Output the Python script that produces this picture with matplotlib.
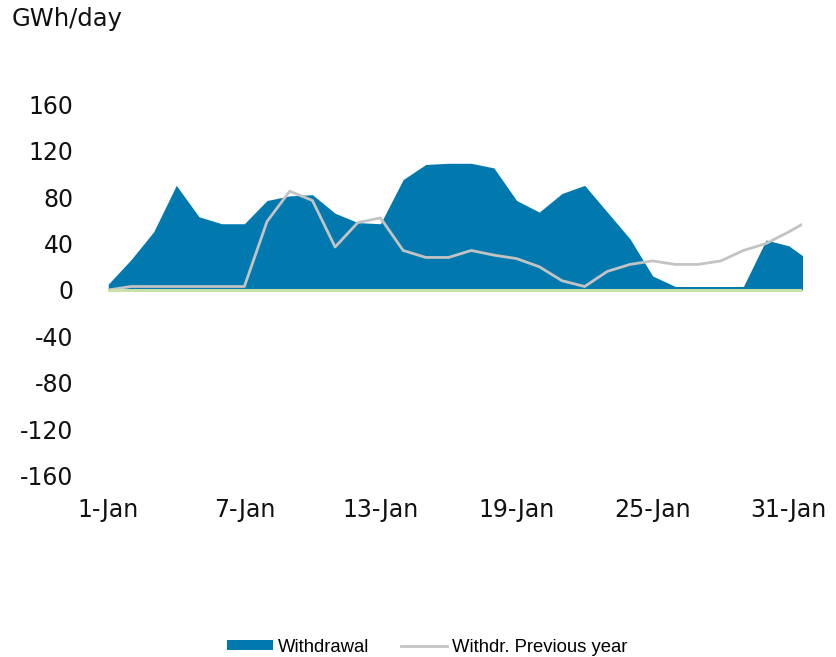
import matplotlib
matplotlib.use("Agg")
import matplotlib.pyplot as plt
from matplotlib.patches import Patch
from matplotlib.lines import Line2D

days = list(range(1, 33))
withdrawal = [5, 26, 50, 90, 63, 57, 57, 77, 81, 82, 66, 58, 57, 95, 108, 109,
              109, 105, 77, 67, 83, 90, 67, 44, 12, 3, 3, 3, 3, 43, 38, 24]
withdr_prev = [0, 3, 3, 3, 3, 3, 3, 59, 85, 77, 37, 58, 62, 34, 28, 28,
               34, 30, 27, 20, 8, 3, 16, 22, 25, 22, 22, 25, 34, 40, 50, 61]
injection = [0] * 32
tick_days = [1, 7, 13, 19, 25, 31]
tick_labels = ["1-Jan", "7-Jan", "13-Jan", "19-Jan", "25-Jan", "31-Jan"]
y_ticks = [-160, -120, -80, -40, 0, 40, 80, 120, 160]

fig = plt.figure(figsize=(8.36, 6.57), dpi=100)
ax = fig.add_axes([0.1295, 0.2755, 0.8295, 0.5662])

blue = "#0279AE"
gray = "#C3C3C3"
green = "#C9E0A6"

ax.fill_between(days, withdrawal, 0, color=blue, linewidth=0, zorder=2)
ax.plot(days, withdr_prev, color=gray, linewidth=2, zorder=3)
ax.plot(days, injection, color=green, linewidth=2.2, zorder=4)

ax.set_xlim(1, 31.57)
ax.set_ylim(-160, 160)
ax.set_yticks(y_ticks)
ax.set_yticklabels([str(v) for v in y_ticks])
ax.set_xticks(tick_days)
ax.set_xticklabels(tick_labels)
for s in ax.spines.values():
    s.set_visible(False)
ax.tick_params(axis="both", length=0, labelsize=17, colors="#111111")
ax.tick_params(axis="y", pad=25)
ax.tick_params(axis="x", pad=16)
for lab in ax.get_xticklabels() + ax.get_yticklabels():
    lab.set_fontfamily("DejaVu Sans")

fig.text(12 / 836, 1 - 19 / 657, "GWh/day", fontsize=17.5, family="DejaVu Sans",
         va="center", ha="left", color="#111111")

handles = [Patch(facecolor=blue, edgecolor="none"),
           Line2D([0], [0], color=gray, linewidth=2)]
leg = fig.legend(handles, ["Withdrawal", "Withdr. Previous year"],
                 loc="center", bbox_to_anchor=(427 / 836, 1 - 647 / 657),
                 ncol=2, frameon=False, handlelength=2.5, handleheight=0.5,
                 handletextpad=0.25, columnspacing=1.7,
                 prop={"family": "Liberation Sans", "size": 13.3})

fig.savefig("out.png", dpi=100)
